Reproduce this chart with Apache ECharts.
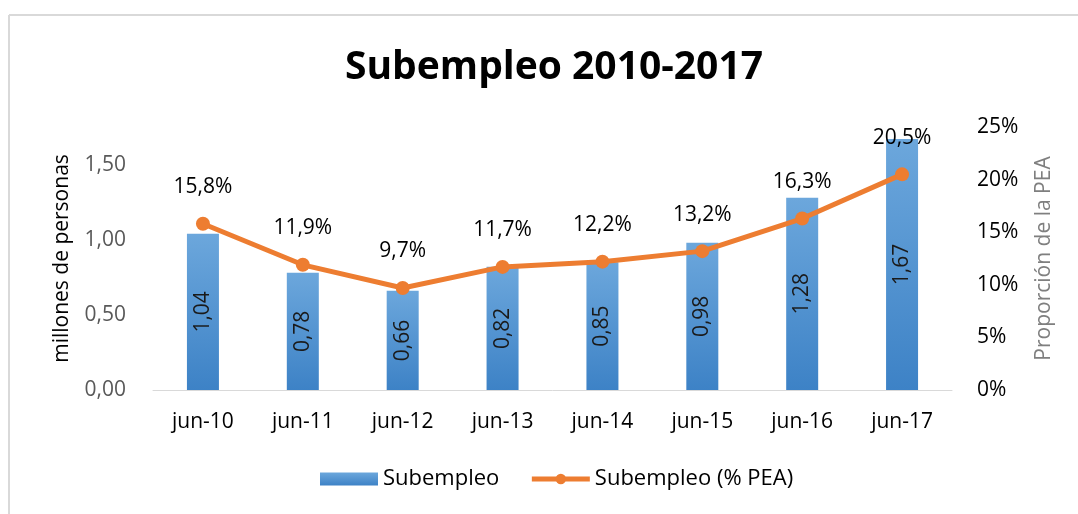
<!DOCTYPE html>
<html>
<head>
<meta charset="utf-8">
<script src="https://cdn.jsdelivr.net/npm/echarts@6/dist/echarts.min.js"></script>
<style>html,body{margin:0;padding:0;background:#fff}#c{width:1078px;height:514px}</style>
</head>
<body>
<div id="c"></div>
<script>
var categories = ['jun-10','jun-11','jun-12','jun-13','jun-14','jun-15','jun-16','jun-17'];
var subempleo = [1.04, 0.78, 0.66, 0.82, 0.85, 0.98, 1.28, 1.67];
var subempleoPct = [15.8, 11.9, 9.7, 11.7, 12.2, 13.2, 16.3, 20.5];
var titleText = 'Subempleo 2010-2017';
var leftAxisName = 'millones de personas';
var rightAxisName = 'Proporción de la PEA';
var seriesNames = ['Subempleo', 'Subempleo (% PEA)'];

var FONT = '"Open Sans", "Noto Sans", sans-serif';
var FS = 21;
var chart = echarts.init(document.getElementById('c'), null, {renderer: 'canvas'});
function comma(v, d) { return v.toFixed(d).replace('.', ','); }
chart.setOption({
  animation: false,
  backgroundColor: '#ffffff',
  textStyle: {fontFamily: FONT},
  title: {
    text: titleText, left: 340, top: 43,
    textStyle: {fontFamily: FONT, fontSize: 39, fontWeight: 'bold', color: '#000'}
  },
  graphic: [
    {type: 'line', shape: {x1: 9, y1: 15, x2: 1078, y2: 15}, style: {stroke: '#d9d9d9', lineWidth: 2}},
    {type: 'line', shape: {x1: 9, y1: 15, x2: 9, y2: 514}, style: {stroke: '#d9d9d9', lineWidth: 2}}
  ],
  legend: {
    bottom: 19, left: 315, itemGap: 30, itemWidth: 58, itemHeight: 13,
    textStyle: {fontFamily: FONT, fontSize: 22, color: '#000'},
    data: [
      {name: seriesNames[0], icon: 'rect'},
      {name: seriesNames[1], lineStyle: {width: 5, color: '#ed7d31'}, itemStyle: {color: '#ed7d31'}}
    ]
  },
  grid: {left: 153, right: 126, top: 127, bottom: 124},
  xAxis: {
    type: 'category', data: categories,
    axisLine: {lineStyle: {color: '#d9d9d9'}},
    axisTick: {show: false},
    axisLabel: {fontFamily: FONT, fontSize: FS, color: '#000', margin: 22}
  },
  yAxis: [
    {
      type: 'value', min: 0, max: 1.75, interval: 0.5,
      name: leftAxisName, nameLocation: 'middle', nameRotate: 90, nameGap: 80,
      nameTextStyle: {fontFamily: FONT, fontSize: FS, color: '#000'},
      splitLine: {show: false}, axisLine: {show: false}, axisTick: {show: false},
      axisLabel: {fontFamily: FONT, fontSize: FS, color: '#595959', margin: 27, showMaxLabel: false,
        formatter: function (v) { return comma(v, 2); }}
    },
    {
      type: 'value', min: 0, max: 25, interval: 5,
      name: rightAxisName, nameLocation: 'middle', nameRotate: 90, nameGap: 82,
      nameTextStyle: {fontFamily: FONT, fontSize: FS, color: '#7f7f7f'},
      splitLine: {show: false}, axisLine: {show: false}, axisTick: {show: false},
      axisLabel: {fontFamily: FONT, fontSize: FS, color: '#000', margin: 25,
        formatter: function (v) { return v + '%'; }}
    }
  ],
  series: [
    {
      name: seriesNames[0], type: 'bar', yAxisIndex: 0, data: subempleo, barWidth: 32,
      itemStyle: {color: new echarts.graphic.LinearGradient(0, 0, 0, 1, [
        {offset: 0, color: '#6ca7dc'}, {offset: 1, color: '#3d82c6'}])},
      label: {show: true, position: 'inside', rotate: 90, fontFamily: FONT, fontSize: FS, color: '#1a1a1a',
        formatter: function (p) { return comma(p.value, 2); }}
    },
    {
      name: seriesNames[1], type: 'line', yAxisIndex: 1, data: subempleoPct,
      symbol: 'circle', symbolSize: 14,
      lineStyle: {color: '#ed7d31', width: 5},
      itemStyle: {color: '#ed7d31'},
      label: {show: true, position: 'top', distance: 19, fontFamily: FONT, fontSize: FS, color: '#000',
        formatter: function (p) { return comma(p.value, 1) + '%'; }},
      z: 5
    }
  ]
});
</script>
</body>
</html>
